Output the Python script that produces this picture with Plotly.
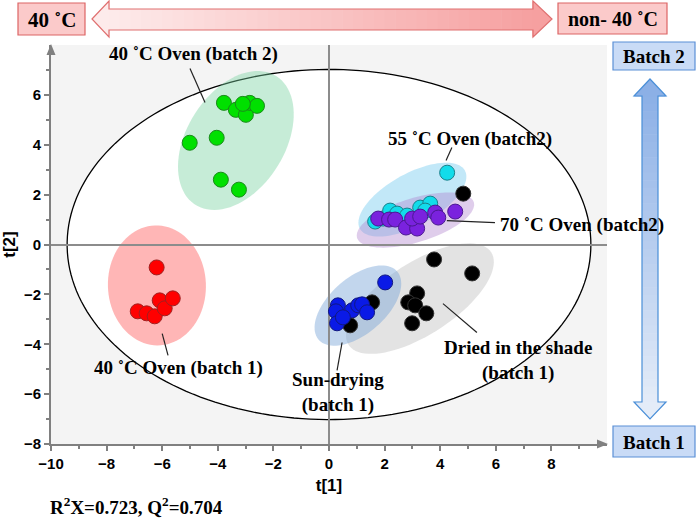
import numpy as np
import plotly.graph_objects as go

# ---------------- data ----------------
green_x = [-3.78, -3.35, -2.99, -2.85, -2.59, -3.10, -4.04, -5.01, -3.89, -3.24]
green_y = [5.68, 5.40, 5.20, 5.68, 5.56, 5.64, 4.28, 4.08, 2.60, 2.20]
red_x = [-6.20, -6.88, -6.56, -6.27, -6.09, -5.91, -5.62]
red_y = [-0.92, -2.68, -2.76, -2.88, -2.24, -2.56, -2.16]
cyan_x = [4.25, 1.66, 1.95, 2.20, 2.45, 2.81, 3.28, 3.64, 3.46]
cyan_y = [2.88, 0.92, 1.04, 1.36, 1.24, 1.16, 1.48, 1.64, 1.36]
purple_x = [1.77, 2.16, 2.38, 2.77, 3.17, 2.99, 3.28, 3.82, 3.93, 4.54]
purple_y = [1.04, 1.00, 1.00, 0.68, 0.64, 1.04, 1.12, 1.28, 1.08, 1.32]
black_x = [4.83, 3.78, 5.15, 3.17, 2.85, 3.10, 3.50, 2.99, 1.55, 0.76]
black_y = [2.04, -0.60, -1.16, -1.96, -2.32, -2.44, -2.76, -3.16, -2.32, -3.24]
blue_x = [2.02, 0.32, 0.25, 0.29, 0.83, 1.05, 1.19, 1.37, 0.50]
blue_y = [-1.52, -2.44, -2.68, -3.16, -2.64, -2.44, -2.40, -2.72, -2.92]

# group confidence ellipses: centre (data), semi-axes (px), angle (deg)
ell_names = ["green", "red", "cyan", "purple", "gray", "blue"]
ell_cx = [-3.35, -6.19, 3.00, 3.11, 3.27, 1.04]
ell_cy = [4.17, -1.64, 1.80, 0.98, -2.17, -2.45]
ell_a = [76, 60, 60, 61, 85, 52]
ell_b = [49, 49, 26, 22, 36, 28]
ell_ang = [58, 92, 29, 17, 33, 41]
ell_fill = ["rgba(120,210,160,0.42)", "rgba(255,110,110,0.50)",
            "rgba(120,205,240,0.45)", "rgba(175,130,205,0.40)",
            "rgba(185,185,185,0.40)", "rgba(120,165,215,0.45)"]

# Hotelling T2 ellipse semi-axes
hot_a, hot_b = 9.42, 7.02

x_ticks = [-10, -8, -6, -4, -2, 0, 2, 4, 6, 8]
y_ticks = [-8, -6, -4, -2, 0, 2, 4, 6]

W, H = 700, 520
ML, MR, MT, MB = 51, 93, 45, 76
XR = [-10, 10]
YR = [-8, 8]
PW, PH = W - ML - MR, H - MT - MB
SX = PW / (XR[1] - XR[0])
SY = PH / (YR[1] - YR[0])


def ellipse_path(cx, cy, a, b, ang):
    t = np.linspace(0, 2 * np.pi, 90)
    th = np.radians(ang)
    dx = a * np.cos(t) * np.cos(th) - b * np.sin(t) * np.sin(th)
    dy = a * np.cos(t) * np.sin(th) + b * np.sin(t) * np.cos(th)
    xs = cx + dx / SX
    ys = cy + dy / SY
    return "M " + " L ".join(f"{x:.4f},{y:.4f}" for x, y in zip(xs, ys)) + " Z"


def P(px, py):
    return (px - ML) / PW, (H - MB - py) / PH


def ppath(pts):
    s = []
    for i, (px, py) in enumerate(pts):
        x, y = P(px, py)
        s.append(("M " if i == 0 else "L ") + f"{x:.5f},{y:.5f}")
    return " ".join(s) + " Z"


def lerp_col(c1, c2, f):
    c = [int(round(a + (b - a) * f)) for a, b in zip(c1, c2)]
    return f"rgb({c[0]},{c[1]},{c[2]})"


shapes = []
# Hotelling ellipse
t = np.linspace(0, 2 * np.pi, 200)
hx, hy = hot_a * np.cos(t), hot_b * np.sin(t)
shapes.append(dict(type="path", xref="x", yref="y", layer="below",
                   path="M " + " L ".join(f"{a:.4f},{b:.4f}" for a, b in zip(hx, hy)) + " Z",
                   fillcolor="white", line=dict(color="black", width=1.3)))
for i in range(len(ell_names)):
    shapes.append(dict(type="path", xref="x", yref="y", layer="below",
                       path=ellipse_path(ell_cx[i], ell_cy[i], ell_a[i], ell_b[i], ell_ang[i]),
                       fillcolor=ell_fill[i], line=dict(width=0)))

# ---------- decorative horizontal double arrow (pink gradient) ----------
hl_tip, hl_base, hr_base, hr_tip = 92, 109, 533, 552
hmid, sh_top, sh_bot, hd_top, hd_bot = 19, 9, 30, 1, 37
c_left, c_right = (253, 235, 235), (246, 160, 160)
N = 40
for k in range(N):
    x0 = hl_base + (hr_base - hl_base) * k / N
    x1 = hl_base + (hr_base - hl_base) * (k + 1) / N + 0.6
    shapes.append(dict(type="path", xref="paper", yref="paper",
                       path=ppath([(x0, sh_top), (x1, sh_top), (x1, sh_bot), (x0, sh_bot)]),
                       fillcolor=lerp_col(c_left, c_right, (k + 0.5) / N), line=dict(width=0)))
shapes.append(dict(type="path", xref="paper", yref="paper",
                   path=ppath([(hl_tip, hmid), (hl_base + 0.6, hd_top), (hl_base + 0.6, hd_bot)]),
                   fillcolor=lerp_col(c_left, c_right, 0), line=dict(width=0)))
shapes.append(dict(type="path", xref="paper", yref="paper",
                   path=ppath([(hr_tip, hmid), (hr_base - 0.6, hd_top), (hr_base - 0.6, hd_bot)]),
                   fillcolor=lerp_col(c_left, c_right, 1), line=dict(width=0)))
shapes.append(dict(type="path", xref="paper", yref="paper",
                   path=ppath([(hl_tip, hmid), (hl_base, hd_top), (hl_base, sh_top), (hr_base, sh_top),
                               (hr_base, hd_top), (hr_tip, hmid), (hr_base, hd_bot), (hr_base, sh_bot),
                               (hl_base, sh_bot), (hl_base, hd_bot)]),
                   fillcolor="rgba(0,0,0,0)", line=dict(color="#e07070", width=1.2)))

# ---------- decorative vertical double arrow (blue gradient) ----------
vx, vt_tip, vt_base, vb_base, vb_tip = 650, 79, 96, 402, 419
vs_l, vs_r, vh_l, vh_r = 642, 658, 634, 666
c_top, c_bot = (140, 176, 230), (228, 236, 248)
for k in range(N):
    y0 = vt_base + (vb_base - vt_base) * k / N
    y1 = vt_base + (vb_base - vt_base) * (k + 1) / N + 0.6
    shapes.append(dict(type="path", xref="paper", yref="paper",
                       path=ppath([(vs_l, y0), (vs_r, y0), (vs_r, y1), (vs_l, y1)]),
                       fillcolor=lerp_col(c_top, c_bot, (k + 0.5) / N), line=dict(width=0)))
shapes.append(dict(type="path", xref="paper", yref="paper",
                   path=ppath([(vx, vt_tip), (vh_l, vt_base + 0.6), (vh_r, vt_base + 0.6)]),
                   fillcolor=lerp_col(c_top, c_bot, 0), line=dict(width=0)))
shapes.append(dict(type="path", xref="paper", yref="paper",
                   path=ppath([(vx, vb_tip), (vh_l, vb_base - 0.6), (vh_r, vb_base - 0.6)]),
                   fillcolor=lerp_col(c_top, c_bot, 1), line=dict(width=0)))
shapes.append(dict(type="path", xref="paper", yref="paper",
                   path=ppath([(vx, vt_tip), (vh_r, vt_base), (vs_r, vt_base), (vs_r, vb_base),
                               (vh_r, vb_base), (vx, vb_tip), (vh_l, vb_base), (vs_l, vb_base),
                               (vs_l, vt_base), (vh_l, vt_base)]),
                   fillcolor="rgba(0,0,0,0)", line=dict(color="#4a8fd8", width=1.2)))

# axis end arrowheads (decorative triangles)
shapes.append(dict(type="path", xref="paper", yref="paper",
                   path=ppath([(W - MR + 1, H - MB), (W - MR - 10, H - MB - 4.5), (W - MR - 10, H - MB + 4.5)]),
                   fillcolor="#808080", line=dict(width=0)))
shapes.append(dict(type="path", xref="paper", yref="paper",
                   path=ppath([(ML, MT - 1), (ML - 4.5, MT + 10), (ML + 4.5, MT + 10)]),
                   fillcolor="#808080", line=dict(width=0)))


def box(x0, y0, x1, y1, fill, line):
    a, b = P(x0, y0)
    c, d = P(x1, y1)
    shapes.append(dict(type="rect", xref="paper", yref="paper", x0=a, y0=d, x1=c, y1=b,
                       fillcolor=fill, line=dict(color=line, width=1.2)))


box(18, 3, 85, 35, "#fbcaca", "#dc6464")
box(558, 3, 667, 34, "#fbcaca", "#dc6464")
box(613, 42, 695, 70, "#c9dbf6", "#5b8fd6")
box(613, 426, 695, 457, "#c9dbf6", "#5b8fd6")

serif = "Liberation Serif"
annotations = []


def ptext(px, py, text, size=20):
    x, y = P(px, py)
    annotations.append(dict(xref="paper", yref="paper", x=x, y=y, text=text, showarrow=False,
                            xanchor="center", yanchor="middle",
                            font=dict(family=serif, size=size, color="black", weight="bold")))


ptext(51.5, 19.5, "40 ˚C", 21)
ptext(612.5, 19, "non- 40 ˚C", 20)
ptext(654, 56.5, "Batch 2", 19)
ptext(654, 442, "Batch 1", 19)
ptext(136, 506, "R<sup>2</sup>X=0.723, Q<sup>2</sup>=0.704", 19)

# group labels (data coords) and leader lines
labels = [
    ("40 ˚C Oven (batch 2)", -4.86, 7.62),
    ("40 ˚C Oven (batch 1)", -5.40, -4.97),
    ("55 ˚C Oven (batch2)", 5.07, 4.25),
    ("70 ˚C Oven (batch2)", 9.10, 0.80),
    ("Dried in the shade<br>(batch 1)", 6.80, -4.65),
    ("Sun-drying<br>(batch 1)", 0.34, -5.95),
]
for txt, lx, ly in labels:
    annotations.append(dict(xref="x", yref="y", x=lx, y=ly, text=txt, showarrow=False,
                            xanchor="center", yanchor="middle",
                            font=dict(family=serif, size=19, color="black", weight="bold")))

leaders = [(-5.0, 7.06, -4.46, 5.69), (-6.0, -3.57, -5.79, -4.45),
           (4.42, 3.89, 4.21, 3.37), (4.24, 0.96, 5.97, 0.88),
           (4.10, -2.37, 5.32, -3.53), (0.47, -3.93, 0.29, -5.05)]
for x0, y0, x1, y1 in leaders:
    shapes.append(dict(type="line", xref="x", yref="y", x0=x0, y0=y0, x1=x1, y1=y1,
                       line=dict(color="#222222", width=1.2)))

fig = go.Figure()


def add_pts(xs, ys, col, lcol):
    fig.add_trace(go.Scatter(x=xs, y=ys, mode="markers", showlegend=False,
                             marker=dict(size=15, color=col, line=dict(color=lcol, width=1))))


add_pts(green_x, green_y, "#00e000", "#1a8a1a")
add_pts(red_x, red_y, "#ff0000", "#a02020")
add_pts(cyan_x, cyan_y, "#12dcea", "#1a7f8a")
add_pts(purple_x, purple_y, "#7a22de", "#4a1890")
add_pts(black_x, black_y, "#000000", "#333333")
add_pts(blue_x, blue_y, "#0a1ae6", "#101880")

tickfont = dict(family="Liberation Sans", size=15, color="black", weight="bold")
fig.update_layout(
    width=W, height=H,
    margin=dict(l=ML, r=MR, t=MT, b=MB, autoexpand=False),
    paper_bgcolor="white", plot_bgcolor="#f4f4f4",
    shapes=shapes, annotations=annotations,
    xaxis=dict(range=XR, tickvals=x_ticks, ticks="outside", ticklen=5, tickwidth=1.5,
               tickcolor="#808080", showline=True, linecolor="#808080", linewidth=2,
               showgrid=False, zeroline=True, zerolinecolor="#8c8c8c", zerolinewidth=1.5,
               tickfont=tickfont,
               minor=dict(tickvals=[-9, -7, -5, -3, -1, 1, 3, 5, 7, 9], ticks="outside",
                          ticklen=3, tickcolor="#808080", showgrid=False),
               title=dict(text="t[1]", standoff=8,
                          font=dict(family="Liberation Sans", size=17, color="black", weight="bold"))),
    yaxis=dict(range=YR, tickvals=y_ticks, ticks="outside", ticklen=5, tickwidth=1.5,
               tickcolor="#808080", showline=True, linecolor="#808080", linewidth=2,
               showgrid=False, zeroline=True, zerolinecolor="#8c8c8c", zerolinewidth=1.5,
               tickfont=tickfont,
               minor=dict(tickvals=[-7, -5, -3, -1, 1, 3, 5, 7], ticks="outside",
                          ticklen=3, tickcolor="#808080", showgrid=False),
               title=dict(text="t[2]", standoff=4,
                          font=dict(family="Liberation Sans", size=17, color="black", weight="bold"))),
)

fig.write_html("out.html", config={"displayModeBar": False},
               post_script="document.body.style.margin='0';")
